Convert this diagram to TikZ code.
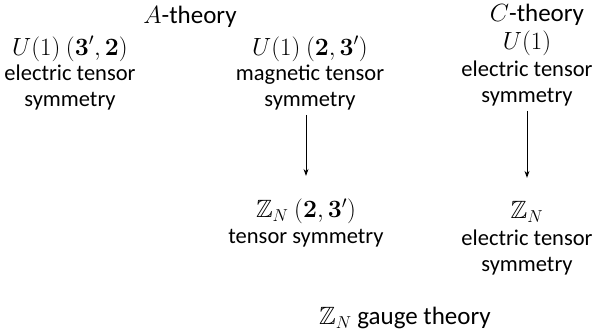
\documentclass[tikz,border=0pt]{standalone}
\usepackage{amsmath,amssymb}
\usepackage[no-math]{fontspec}
\setmainfont{Carlito}
\usetikzlibrary{arrows.meta}
\newcommand{\mline}[1]{{\fontsize{25}{25.5}\selectfont$#1$}}
\tikzset{
  thry/.style={font=\fontsize{25}{28}\selectfont,inner sep=1pt},
  sym/.style={align=center,font=\fontsize{22.5}{25.5}\selectfont,inner sep=1pt},
  flow/.style={black,line width=1pt,-{Stealth[length=7pt,width=5pt]}}
}

\begin{document}
\begin{tikzpicture}[x=1pt,y=-1pt]
    \useasboundingbox (0,0) rectangle (592,334);
    \node[thry] (Ath) at (190,17) {$A$-theory};
    \node[thry] (Cth) at (537,15) {$C$-theory};
    \node[sym] (Ael) at (70,73) {\mline{U(1)\ (\mathbf{3}',\mathbf{2})}\\electric tensor\\symmetry};
    \node[sym] (Amag) at (310,73) {\mline{U(1)\ (\mathbf{2},\mathbf{3}')}\\magnetic tensor\\symmetry};
    \node[sym] (Cel) at (527,68) {\mline{U(1)}\\[2pt]electric tensor\\symmetry};
    \node[sym] (Zt) at (306,223) {\mline{\mathbb{Z}_N\ (\mathbf{2},\mathbf{3}')}\\tensor symmetry};
    \node[sym] (Zel) at (527,238) {\mline{\mathbb{Z}_N}\\[2pt]electric tensor\\symmetry};
    \node[thry] (Zg) at (405,318) {$\mathbb{Z}_N$ gauge theory};
    \draw[flow,shorten <=4pt,shorten >=22pt] (Zt.north |- Amag.south) -- (Zt.north);
    \draw[flow,shorten <=4pt,shorten >=22pt] (Cel.south) -- (Cel.south |- Zel.north);
  \end{tikzpicture}
\end{document}
